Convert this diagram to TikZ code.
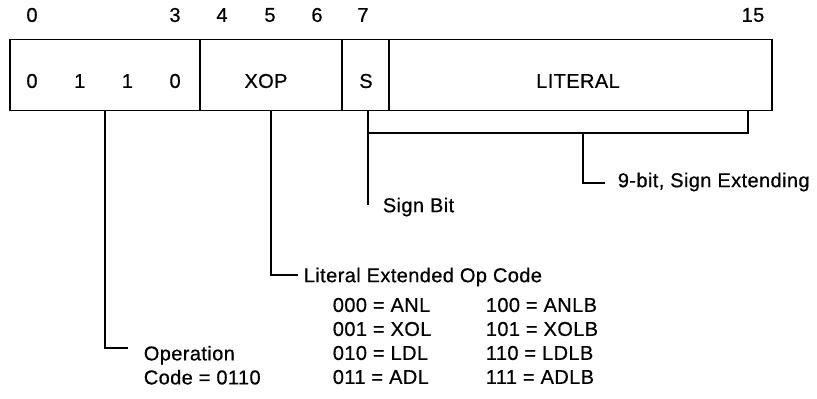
\documentclass[tikz,border=0pt]{standalone}
\usepackage{fontspec}
\setmainfont[LetterSpace=2,FakeBold=0.6]{Liberation Sans}
\usetikzlibrary{positioning}

\begin{document}
\begin{tikzpicture}[x=1pt,y=-1pt,line width=1.7pt,
  field/.style={draw,minimum height=71pt,inner sep=0pt,outer sep=0pt},
  lbl/.style={font=\fontsize{20}{24}\selectfont,inner sep=0pt,anchor=west}]
\useasboundingbox (0,0) rectangle (817,399);
% instruction word
\node[field,minimum width=190pt] (opc) at (105,75) {};
\node[field,minimum width=142pt,right=0pt of opc] (xop) {};
\node[field,minimum width=47pt,right=0pt of xop] (sgn) {};
\node[field,minimum width=383pt,right=0pt of sgn] (lit) {};
\foreach \d [count=\i] in {0,1,1,0}
  \node[lbl,anchor=center] (op\i) at ({32+47.7*(\i-1)},81) {\d};
\node[lbl,anchor=center] (xopt) at (266,81) {XOP};
\node[lbl,anchor=center] (sgnt) at (366,81) {S};
\node[lbl,anchor=center] (litt) at (578,81) {LITERAL};
% bit numbers
\foreach \b/\x in {0/32,3/175,4/222,5/270,6/317,7/363,15/753}
  \node[lbl,anchor=center] (bit\b) at (\x,15) {\b};
% literal bracket
\coordinate (brl) at (368,133);
\coordinate (brr) at (748,133);
\coordinate (brm) at (583,133);
\draw (lit.south -| brr) -- (brr) -- (brl);
\node[lbl] (ext) at (617,182) {9-bit, Sign Extending};
\coordinate (extend) at (605,183);
\draw (brm) |- (extend);
% sign bit
\coordinate (sgnend) at (368,205);
\draw (sgn.south -| sgnend) -- (sgnend);
\node[lbl] (sbit) at (382,207) {Sign Bit};
% extended op code
\node[lbl] (lxo) at (303,277) {Literal Extended Op Code};
\coordinate (xopend) at (298,275);
\draw (xop.south) |- (xopend);
\foreach \c/\m [count=\r] in {000/ANL,001/XOL,010/LDL,011/ADL}
  \node[lbl] (lo\r) at (332,{305+24*(\r-1)}) {\c\ = \m};
\foreach \c/\m [count=\r] in {100/ANLB,101/XOLB,110/LDLB,111/ADLB}
  \node[lbl] (hi\r) at (485,{305+24*(\r-1)}) {\c\ = \m};
% operation code
\coordinate (opcend) at (128,348);
\draw (opc.south) |- (opcend);
\node[lbl,align=left,anchor=north west] (opn) at (143,345) {Operation\\Code = 0110};
\end{tikzpicture}
\end{document}
